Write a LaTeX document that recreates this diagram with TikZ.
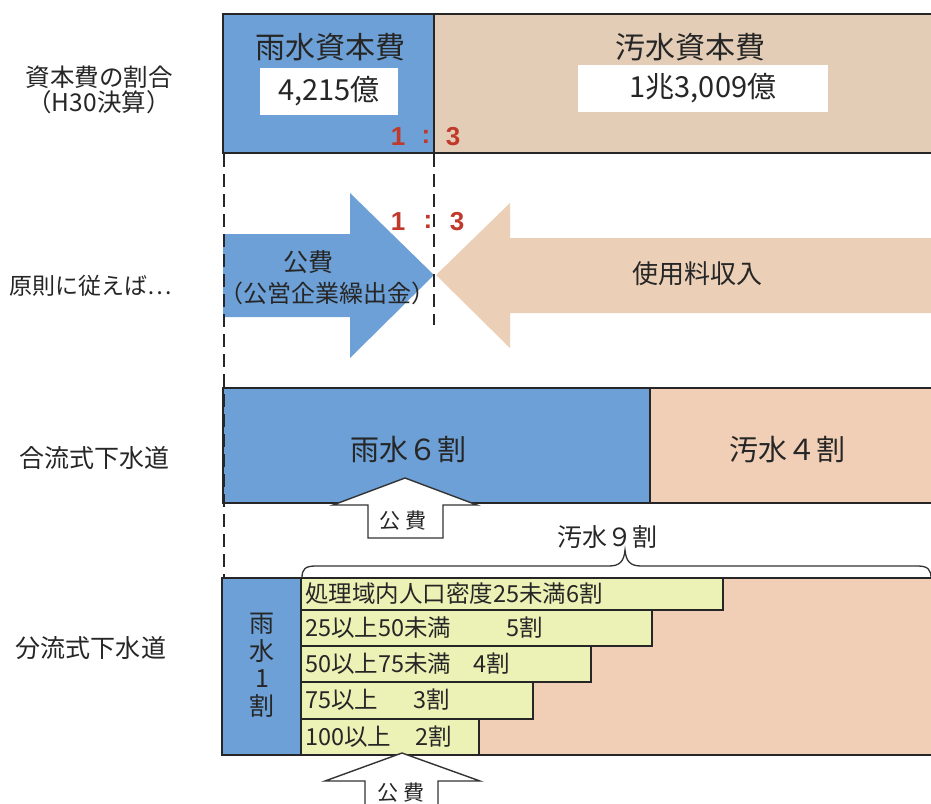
\documentclass[tikz,border=0pt]{standalone}
\usepackage{fontspec}
\setmainfont{Noto Sans CJK JP}
\newfontfamily\ratiofont{Liberation Sans}
\definecolor{rainblue}{HTML}{6CA0D6}
\definecolor{beigetop}{HTML}{E3CDB6}
\definecolor{beigemid}{HTML}{EBCFB6}
\definecolor{beigelow}{HTML}{F1CFB6}
\definecolor{baryellow}{HTML}{ECF2B6}
\definecolor{ratiored}{HTML}{C0392B}
\definecolor{inkgray}{HTML}{262626}
\begin{document}
\begin{tikzpicture}[x=1pt,y=-1pt,
  txt/.style={inner sep=0pt,text=inkgray},
  sz/.style={font=\fontsize{#1}{#1}\selectfont},
  lbl/.style={txt,sz=23},
  title/.style={txt,sz=30},
  valbox/.style={fill=white,draw=none,txt,sz=29},
  ratio/.style={inner sep=0pt,text=ratiored,font=\ratiofont\bfseries\fontsize{26}{26}\selectfont},
  bartxt/.style={txt,anchor=west,sz=23.5},
  outl/.style={draw=black!85,line width=1.5pt},
  uparrow/.style={fill=white,draw=black!80,line width=1.4pt,line join=miter},
  guide/.style={draw=black!85,line width=1.4pt,dash pattern=on 13pt off 7pt}]
\clip (0,0) rectangle (931,803);
\fill[white] (0,0) rectangle (931,803);

% ---------- top: capital cost ratio ----------
\fill[rainblue] (223,14) rectangle (434,153);
\fill[beigetop] (434,14) rectangle (945,153);
\draw[line width=2pt,draw=black!85] (945,14) -- (223,14) -- (223,153) -- (945,153);
\draw[line width=1.5pt,draw=black!85] (434,14) -- (434,153);
\node[txt,sz=24.5] (capital) at (99,77) {資本費の割合};
\node[txt,sz=24.5] (h30) at (99,102) {（H30決算）};
\node[title] (rainT) at (330,47) {雨水資本費};
\node[valbox,minimum width=138pt,minimum height=47pt] (rainV) at (329,91) {4,215億};
\node[title] (sewT) at (690,47) {汚水資本費};
\node[valbox,minimum width=250pt,minimum height=47pt] (sewV) at (703,88) {1兆3,009億};
\node[ratio] (ra1) at (398,137) {1};
\node[ratio] (rac) at (426,137) {:};
\node[ratio] (ra3) at (453,137) {3};

% ---------- middle: arrows ----------
\fill[rainblue] (223,234) -- (350,234) -- (350,193) -- (434,275) -- (350,358) -- (350,317) -- (223,317) -- cycle;
\fill[beigemid] (436,275) -- (510,203) -- (510,238) -- (945,238) -- (945,313) -- (510,313) -- (510,348) -- cycle;
\node[txt,sz=25] (kohi) at (308,262) {公費};
\node[txt,sz=24] (kohi2) at (327,293) {（公営企業繰出金）};
\node[txt,sz=26] (fee) at (697,274) {使用料収入};
\node[ratio] (rb1) at (398,222) {1};
\node[ratio] (rbc) at (428,222) {:};
\node[ratio] (rb3) at (457,222) {3};
\node[lbl] (principle) at (91,286) {原則に従えば…};

% ---------- combined sewer ----------
\fill[rainblue] (223,388) rectangle (650,503);
\fill[beigelow] (650,388) rectangle (945,503);
\draw[outl] (945,388) -- (223,388) -- (223,503) -- (945,503);
\draw[outl] (650,388) -- (650,503);
\node[txt,sz=29] (rain6) at (408,450) {雨水６割};
\node[txt,sz=29] (sew4) at (787,450) {汚水４割};
\node[txt,sz=25] (combined) at (94,458) {合流式下水道};
\draw[uparrow] (405,478) -- (477,505) -- (443,505) -- (443,538) -- (368,538) -- (368,505) -- (333,505) -- cycle;
\node[txt,sz=21] (kohiA) at (403,521) {公\hspace{5pt}費};
\node[txt,sz=25] (sew9) at (607,537) {汚水９割};
\draw[line width=1.3pt,draw=black!80] (302,578) .. controls (302,569) and (305,566) .. (316,566) -- (609,566) .. controls (620,566) and (624,561) .. (625,550) .. controls (626,561) and (630,566) .. (641,566) -- (918,566) .. controls (928,566) and (931,570) .. (931,578);

% ---------- separate sewer ----------
\fill[beigelow] (222,578) rectangle (945,755);
\fill[rainblue] (222,578) rectangle (301,755);
\draw[outl,fill=baryellow] (301,578) rectangle (723,610);
\draw[outl,fill=baryellow] (301,610) rectangle (652,646);
\draw[outl,fill=baryellow] (301,646) rectangle (591,682);
\draw[outl,fill=baryellow] (301,682) rectangle (533,719);
\draw[outl,fill=baryellow] (301,719) rectangle (479,755);
\draw[outl] (945,578) -- (222,578) -- (222,755) -- (945,755);
\node[txt,align=center,font=\fontsize{25}{27.5}\selectfont] (rain1) at (262,665) {雨\\水\\1\\割};
\node[bartxt] (bar1) at (305,594) {処理域内人口密度25未満6割};
\node[bartxt] (bar2) at (305,628) {\makebox[201pt][l]{25以上50未満}5割};
\node[bartxt] (bar3) at (305,664) {\makebox[168pt][l]{50以上75未満}4割};
\node[bartxt] (bar4) at (305,700) {\makebox[108pt][l]{75以上}3割};
\node[bartxt] (bar5) at (305,737) {\makebox[110pt][l]{100以上}2割};
\node[txt,sz=25] (separate) at (91,648) {分流式下水道};
\draw[uparrow] (402,753) -- (480,781) -- (438,781) -- (438,815) -- (365,815) -- (365,781) -- (325,781) -- cycle;
\node[txt,sz=21] (kohiB) at (401,793) {公\hspace{5pt}費};

% ---------- guide lines ----------
\coordinate (gLtop) at (224,154);
\coordinate (gLbot) at (224,578);
\coordinate (gRtop) at (434,154);
\coordinate (gRbot) at (434,325);
\draw[guide] (gLtop) -- (gLbot);
\draw[guide] (gRtop) -- (gRbot);
\end{tikzpicture}
\end{document}
